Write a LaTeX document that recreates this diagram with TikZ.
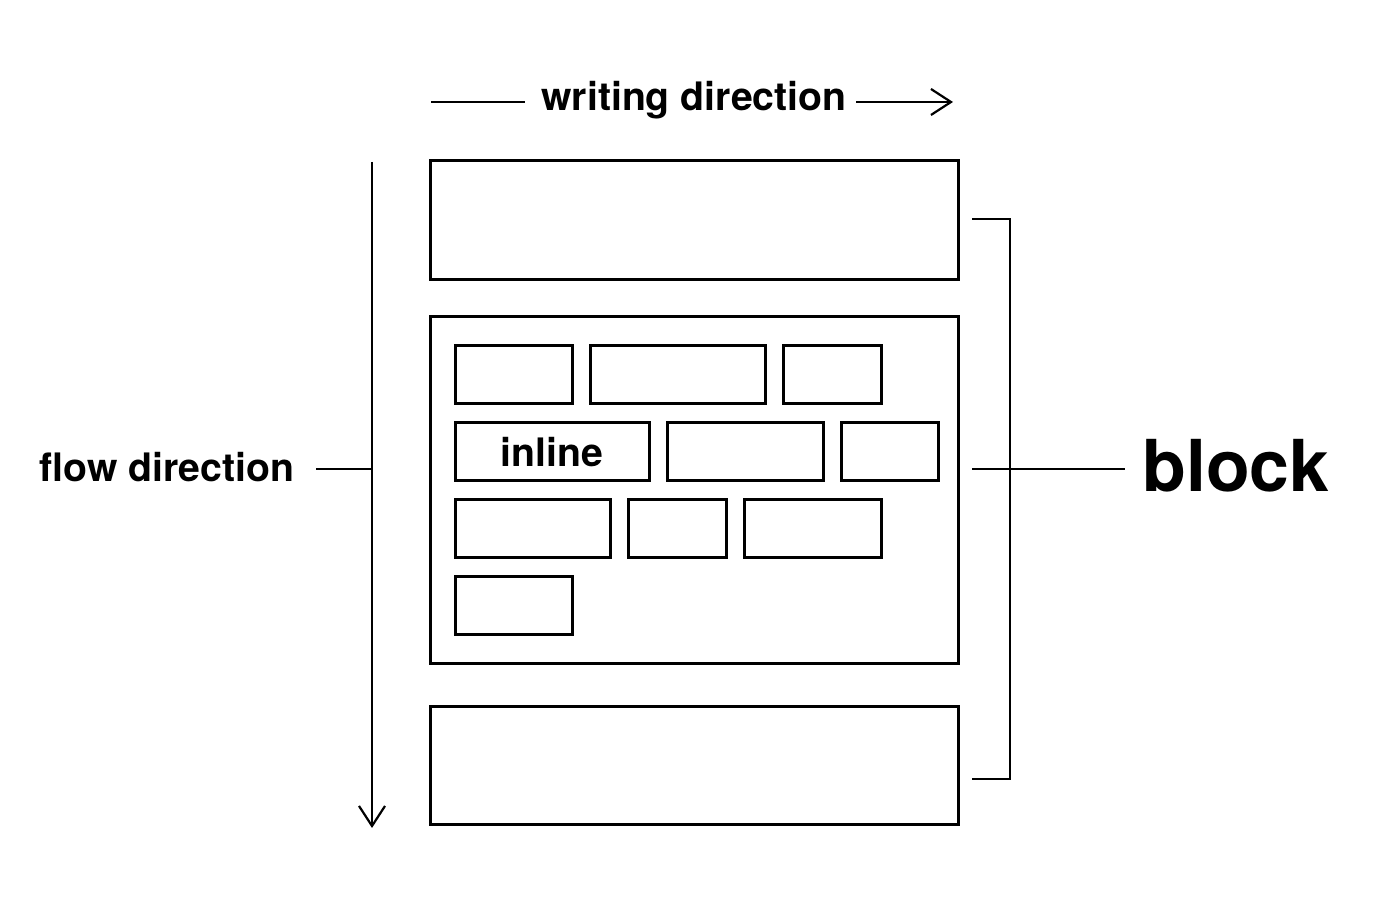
\documentclass[tikz,border=0pt]{standalone}
\usepackage{fontspec}
\setmainfont{TeX Gyre Heros}
\usetikzlibrary{fit,arrows.meta}
\begin{document}
\begin{tikzpicture}[x=0.5pt,y=-0.5pt,
  box/.style={draw,line width=1.5pt,inner sep=0pt,rectangle},
  thin/.style={line width=1.1pt},
  lbl/.style={font=\bfseries\fontsize{19.6}{22}\selectfont,inner sep=0pt},
  tip/.style={-{Straight Barb[length=10pt,width=13pt,line width=1.1pt]}}]
\useasboundingbox (0,0) rectangle (1388,908);
% block boxes
\node[box,fit={(430,161)(958,280)}] (b1) {};
\node[box,fit={(430,317)(958,664)}] (b2) {};
\node[box,fit={(430,707)(958,825)}] (b3) {};
% inline boxes
\node[box,fit={(455,346)(572,404)}] (i11) {};
\node[box,fit={(590,346)(765,404)}] (i12) {};
\node[box,fit={(783,346)(881,404)}] (i13) {};
\node[box,fit={(455,423)(649,481)}] (i21) {};
\node[lbl] at (i21.center) {inline};
\node[box,fit={(667,423)(823,481)}] (i22) {};
\node[box,fit={(841,423)(938,481)}] (i23) {};
\node[box,fit={(455,500)(610,558)}] (i31) {};
\node[box,fit={(628,500)(726,558)}] (i32) {};
\node[box,fit={(744,500)(881,558)}] (i33) {};
\node[box,fit={(455,577)(572,635)}] (i41) {};
% writing direction
\node[lbl] (wd) at (694,100) {writing direction};
\coordinate (wl) at (431,102);
\coordinate (wr) at (953,102);
\draw[thin] (wl) -- (525,102);
\draw[thin,tip] (856,102) -- (wr);
% flow direction
\coordinate (ft) at (372,162);
\coordinate (fb) at (372,828);
\draw[thin,tip] (ft) -- (fb);
\node[lbl] (fd) at (167,467) {flow direction};
\coordinate (fm) at (372,469);
\draw[thin] (316,469) -- (fm);
% block bracket
\coordinate (bt) at (972,219);
\coordinate (bb) at (972,779);
\draw[thin] (bt) -- (1010,219) -- (1010,779) -- (bb);
\node[font=\bfseries\fontsize{35.8}{40}\selectfont,inner sep=0pt,anchor=west] (bl) at (1142,466) {block};
\draw[thin] (972,469) -- (1125,469);
\end{tikzpicture}
\end{document}
